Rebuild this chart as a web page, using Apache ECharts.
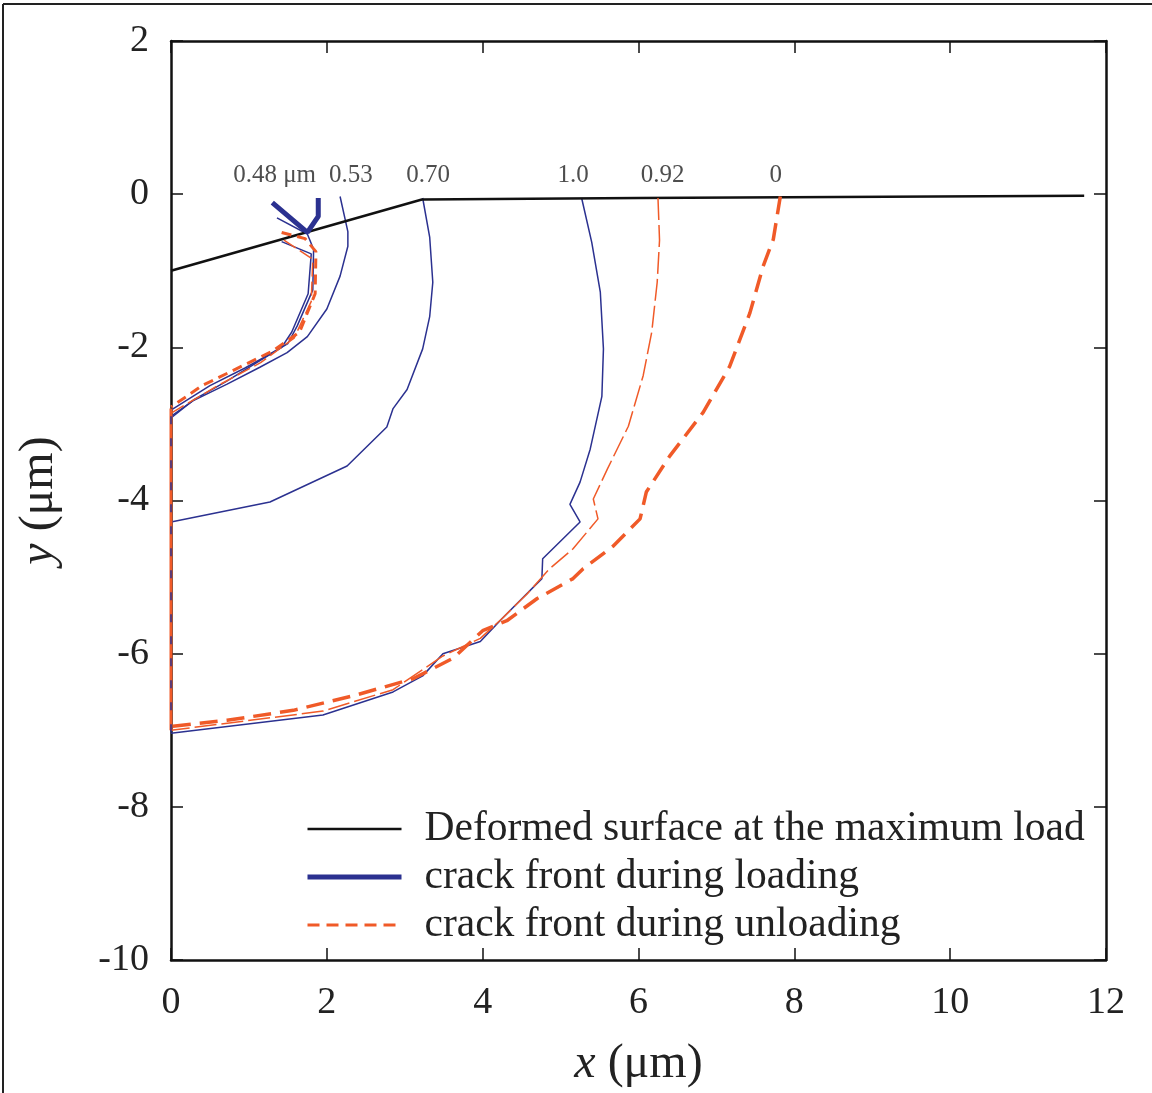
<!DOCTYPE html>
<html>
<head>
<meta charset="utf-8">
<script src="https://cdn.jsdelivr.net/npm/echarts@6/dist/echarts.min.js"></script>
<style>
  html, body { margin: 0; padding: 0; background: #fff; }
  #chart { width: 1152px; height: 1093px; }
</style>
</head>
<body>
<div id="chart"></div>
<script>
// ---- data (x, y in micrometres) ----
const surface = [[0, -1.0], [3.22, -0.07], [6.0, -0.05], [11.72, -0.02]];

const load048Thick = [[1.30, -0.11], [1.75, -0.50], [1.89, -0.29], [1.89, -0.05]];
const load048a = [[1.36, -0.31], [1.75, -0.52], [1.83, -0.72], [1.82, -1.25], [1.62, -1.72], [1.50, -1.95], [1.25, -2.10], [0.95, -2.27], [0.50, -2.50], [0, -2.82]];
const load048b = [[1.42, -0.62], [1.80, -0.78], [1.76, -1.30], [1.55, -1.80], [1.42, -2.00], [1.10, -2.20], [0.70, -2.45], [0.30, -2.68], [0, -2.92]];
const unload048a = [[1.42, -0.50], [1.72, -0.58], [1.86, -0.75], [1.85, -1.30], [1.65, -1.80], [1.30, -2.05], [0.80, -2.30], [0.40, -2.50], [0, -2.78]];
const unload048b = [[1.45, -0.60], [1.82, -0.85], [1.80, -1.40], [1.58, -1.88], [1.15, -2.20], [0.60, -2.50], [0, -2.86]];

const load053 = [[2.17, -0.03], [2.27, -0.49], [2.27, -0.68], [2.17, -1.07], [2.00, -1.50], [1.75, -1.86], [1.49, -2.07], [1.14, -2.26], [0.72, -2.48], [0.28, -2.70], [0, -2.90]];
const load070 = [[3.23, -0.05], [3.32, -0.56], [3.36, -1.15], [3.32, -1.60], [3.23, -2.02], [3.03, -2.55], [2.85, -2.80], [2.77, -3.04], [2.26, -3.55], [1.27, -4.02], [0, -4.28]];
const load100 = [[5.27, -0.05], [5.40, -0.63], [5.51, -1.28], [5.55, -2.02], [5.53, -2.64], [5.38, -3.33], [5.25, -3.76], [5.12, -4.05], [5.25, -4.28], [4.77, -4.76], [4.76, -5.02], [4.25, -5.54], [3.97, -5.84], [3.49, -6.00], [3.23, -6.29], [2.85, -6.50], [1.95, -6.80], [0, -7.04]];
const unload092 = [[6.25, -0.05], [6.27, -0.60], [6.24, -1.15], [6.17, -1.80], [6.06, -2.37], [5.87, -3.03], [5.60, -3.59], [5.42, -3.98], [5.48, -4.24], [5.16, -4.63], [4.86, -4.89], [4.57, -5.22], [4.25, -5.54], [3.97, -5.80], [3.49, -6.03], [2.85, -6.47], [1.95, -6.75], [0, -7.00]];
const unload000 = [[7.82, -0.03], [7.73, -0.59], [7.60, -0.94], [7.43, -1.55], [7.17, -2.25], [6.83, -2.85], [6.40, -3.42], [6.10, -3.89], [6.02, -4.24], [5.67, -4.60], [5.29, -4.89], [5.16, -5.02], [4.70, -5.28], [4.31, -5.57], [4.00, -5.70], [3.62, -6.06], [3.10, -6.33], [2.34, -6.55], [1.57, -6.74], [0.72, -6.87], [0, -6.95]];
const edgeUnload = [[0, -2.80], [0, -7.00]];
const edgeLoad = [[0, -2.90], [0, -7.04]];

const frontLabels = ['0.48 μm', '0.53', '0.70', '1.0', '0.92', '0'];
const frontLabelPos = [[1.33, 0.25], [2.31, 0.25], [3.30, 0.25], [5.16, 0.25], [6.31, 0.25], [7.76, 0.25]];

const xTicks = { min: 0, max: 12, interval: 2 };
const yTicks = { min: -10, max: 2, interval: 2 };

// ---- styling ----
const BLUE = '#2b3190';
const RED = '#f05a28';
const FONT = 'Liberation Serif';
const NAME_SURF = 'Deformed surface at the maximum load';
const NAME_LOAD = 'crack front during loading';
const NAME_UNLOAD = 'crack front during unloading';

function lineSeries(name, data, color, width, type, z) {
  return {
    name: name, type: 'line', data: data,
    symbol: 'none', showSymbol: false, clip: false,
    lineStyle: { color: color, width: width, type: type || 'solid' },
    itemStyle: { color: color },
    z: z || 2, animation: false
  };
}

const chart = echarts.init(document.getElementById('chart'), null, { renderer: 'canvas' });

const axisCommon = {
  axisLine: { show: true, onZero: false, lineStyle: { color: '#111', width: 2.5 } },
  axisTick: { show: true, inside: true, length: 12, lineStyle: { color: '#111', width: 1.5 } },
  splitLine: { show: false }
};

chart.setOption({
  animation: false,
  backgroundColor: '#fff',
  textStyle: { fontFamily: FONT },
  grid: { left: 171, right: 46, top: 41, bottom: 131, containLabel: false },
  graphic: [
    { type: 'line', shape: { x1: 3, y1: 4, x2: 1152, y2: 4 }, style: { stroke: '#222', lineWidth: 2 } },
    { type: 'line', shape: { x1: 3, y1: 4, x2: 3, y2: 1093 }, style: { stroke: '#222', lineWidth: 2 } }
  ],
  xAxis: [
    Object.assign({}, axisCommon, {
      type: 'value', position: 'bottom', min: xTicks.min, max: xTicks.max, interval: xTicks.interval,
      axisLabel: { fontSize: 38, color: '#222', margin: 24, fontFamily: FONT },
      name: '{i|x} (μm)', nameLocation: 'middle', nameGap: 80,
      nameTextStyle: { fontSize: 48, color: '#222', fontFamily: FONT,
        rich: { i: { fontSize: 48, fontStyle: 'italic', fontFamily: FONT, color: '#222' } } }
    }),
    Object.assign({}, axisCommon, {
      type: 'value', position: 'top', min: xTicks.min, max: xTicks.max, interval: xTicks.interval,
      axisLabel: { show: false }
    })
  ],
  yAxis: [
    Object.assign({}, axisCommon, {
      type: 'value', position: 'left', min: yTicks.min, max: yTicks.max, interval: yTicks.interval,
      axisLabel: { fontSize: 38, color: '#222', margin: 22, fontFamily: FONT },
      name: '{i|y} (μm)', nameLocation: 'middle', nameGap: 108, nameRotate: 90,
      nameTextStyle: { fontSize: 48, color: '#222', fontFamily: FONT,
        rich: { i: { fontSize: 48, fontStyle: 'italic', fontFamily: FONT, color: '#222' } } }
    }),
    Object.assign({}, axisCommon, {
      type: 'value', position: 'right', min: yTicks.min, max: yTicks.max, interval: yTicks.interval,
      axisLabel: { show: false }
    })
  ],
  legend: {
    left: 300, top: 803, orient: 'vertical',
    itemWidth: 94, itemHeight: 14, itemGap: 6,
    itemStyle: { opacity: 0 },
    textStyle: { fontSize: 41.5, color: '#222', fontFamily: FONT, padding: [0, 0, 0, 18] },
    selectedMode: false,
    data: [
      { name: NAME_SURF, itemStyle: { opacity: 0 }, lineStyle: { color: '#111', width: 2.5, type: 'solid' } },
      { name: NAME_LOAD, itemStyle: { opacity: 0 }, lineStyle: { color: BLUE, width: 5, type: 'solid' } },
      { name: NAME_UNLOAD, itemStyle: { opacity: 0 }, lineStyle: { color: RED, width: 3, type: [12, 7] } }
    ]
  },
  series: [
    lineSeries(NAME_SURF, surface, '#111', 2.5, 'solid', 3),
    lineSeries(NAME_LOAD, load048Thick, BLUE, 5, 'solid', 5),
    lineSeries(NAME_LOAD, load048a, BLUE, 1.5),
    lineSeries(NAME_LOAD, load048b, BLUE, 1.5),
    lineSeries(NAME_LOAD, load053, BLUE, 1.5),
    lineSeries(NAME_LOAD, load070, BLUE, 1.5),
    lineSeries(NAME_LOAD, load100, BLUE, 1.5),
    lineSeries(NAME_UNLOAD, unload048a, RED, 3, [10, 6], 4),
    lineSeries(NAME_UNLOAD, unload048b, RED, 1.5, [14, 5], 4),
    lineSeries(NAME_UNLOAD, unload092, RED, 1.5, [22, 5], 4),
    lineSeries(NAME_UNLOAD, unload000, RED, 3.5, [18, 9], 4),
    lineSeries(NAME_UNLOAD, edgeUnload, RED, 3, 'solid', 6),
    lineSeries(NAME_LOAD, edgeLoad, BLUE, 1.5, [8, 14], 7),
    {
      name: 'front labels', type: 'scatter', data: frontLabelPos,
      symbolSize: 0, silent: true, z: 8,
      label: {
        show: true, position: 'inside', color: '#222', fontSize: 25, fontFamily: FONT,
        formatter: function (p) { return frontLabels[p.dataIndex]; }
      }
    }
  ]
});
</script>
</body>
</html>
